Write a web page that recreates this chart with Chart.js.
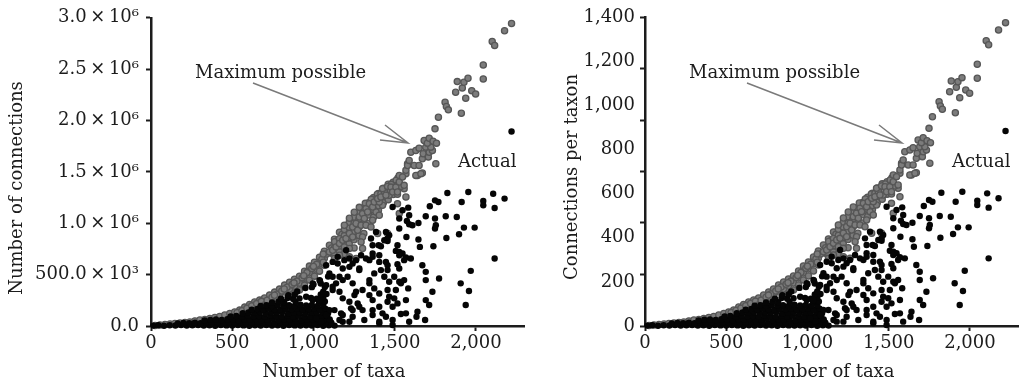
<!DOCTYPE html>
<html>
<head>
<meta charset="utf-8">
<script src="https://cdn.jsdelivr.net/npm/chart.js@4.4.1/dist/chart.umd.min.js"></script>
<style>
  html, body { margin: 0; padding: 0; background: #fff; }
  #wrap { position: relative; width: 1024px; height: 385px; }
  canvas { position: absolute; top: 0; }
  #connChart { left: 0; }
  #perTaxonChart { left: 530px; }
</style>
</head>
<body>
<div id="wrap">
  <canvas id="connChart" width="530" height="385"></canvas>
  <canvas id="perTaxonChart" width="494" height="385"></canvas>
</div>
<script>
// Tick values
const taxaTicks = [0, 500, 1000, 1500, 2000];
const connTicksK = [0, 500, 1000, 1500, 2000, 2500, 3000];           // connections, thousands
const perTaxonTicks = [0, 200, 400, 600, 800, 1000, 1200, 1400];

// Maximum possible connections: [number of taxa, connections (thousands)]
const maxPossible = [
  [25,5],[55,10],[86,15],[117,19],[147,24],[178,29],[209,34],[239,39],[270,49],[301,58],
  [331,63],[362,73],[393,83],[423,92],[454,107],[485,121],[515,136],[546,155],[577,184],[607,209],
  [638,233],[669,252],[699,272],[730,301],[761,330],[791,359],[822,398],[853,427],[883,456],[914,485],
  [945,534],[975,583],[1006,621],[1037,670],[1067,728],[1098,786],[1129,845],[1160,913],
  [530,130],[560,150],[590,172],[620,196],[650,218],[680,240],
  [699,204],[730,233],[761,262],[791,291],[822,330],[853,359],[883,388],[914,417],[945,466],[975,515],
  [1006,553],[1037,602],[1067,660],[1098,718],
  [715,250],[745,280],[775,310],[805,340],[838,378],[868,405],[898,436],[930,470],[960,520],[990,560],
  [1020,600],[1052,650],[1082,700],[1112,760],[1145,830],[1175,890],
  [853,291],[883,320],[914,350],[945,398],[975,447],[1006,485],[1037,534],[1067,592],
  [760,300],[820,360],[880,420],[940,490],[1000,580],[1060,620],[1060,700],[1120,700],
  [1130,700],[1130,760],[1130,820],[1160,720],[1160,780],[1160,850],[1190,700],[1190,800],[1190,880],[1190,940],
  [1220,800],[1220,860],[1220,960],[1220,1010],[1250,760],[1250,840],[1250,920],[1250,1000],[1250,1060],
  [1280,880],[1280,960],[1280,1040],[1280,1100],[1310,900],[1310,1000],[1310,1070],[1310,1140],
  [1340,1000],[1340,1080],[1340,1150],[1340,1200],[1370,1060],[1370,1130],[1370,1200],[1370,1250],
  [1400,1130],[1400,1170],[1400,1230],[1400,1290],[1430,1200],[1430,1260],[1430,1340],
  [1460,1230],[1460,1300],[1460,1380],[1490,1280],[1490,1330],[1490,1400],[1520,1420],[1520,1440],
  [1190,981],[1221,1049],[1251,1107],[1282,1155],[1319,1194],[1356,1233],[1393,1282],[1436,1320],[1479,1379],[1509,1418],
  [1098,721],[1118,738],[1139,770],[1160,803],[1129,657],[1160,689],[1190,770],[1221,754],[1221,673],[1262,657],
  [1302,754],[1180,835],[1200,851],[1221,900],[1241,867],[1302,867],[1293,818],[1241,964],[1262,997],[1272,932],
  [1293,981],[1323,981],[1354,964],[1395,900],[1456,900],[1282,1061],[1302,1094],[1313,1046],[1364,1029],[1323,1143],
  [1333,1110],[1385,1110],[1405,1078],[1528,1094],[1344,1191],[1364,1158],[1425,1175],[1517,1191],[1374,1207],[1405,1207],
  [1395,1240],[1415,1288],[1436,1304],[1466,1272],[1517,1282],[1425,1337],[1558,1337],[1456,1359],[1477,1352],[1517,1369],
  [1538,1359],[1528,1466],[1569,1483],[1640,1466],[1670,1489],[1415,1255],[1446,1272],[1487,1304],[1507,1352],[1528,1401],
  [1548,1450],[1558,1369],[1517,1304],[1569,1255],[1569,1515],[1579,1580],[1579,1563],[1589,1612],[1620,1563],[1630,1466],
  [1661,1483],[1650,1563],[1670,1628],[1599,1692],[1630,1709],[1650,1731],[1675,1676],[1707,1644],[1753,1580],[1712,1692],
  [1732,1709],[1691,1741],[1722,1741],[1681,1806],[1701,1780],[1712,1828],[1736,1799],[1757,1780],[1748,1919],[1769,2032],
  [1810,2178],[1818,2136],[1830,2104],[1910,2071],[1875,2275],[1885,2379],[1916,2317],[1926,2372],[1951,2411],[1937,2217],
  [1974,2291],[1998,2259],[2045,2405],[2045,2541],[2100,2770],[2115,2731],[2176,2874],[2219,2945]
];

// Actual connections: [number of taxa, connections (thousands)]
const actual = [
  [15,4],[45,7],[80,3],[115,8],[150,5],[185,9],[220,4],[255,7],[290,10],[325,5],[360,8],[395,3],[430,9],[465,6],
  [500,4],[535,10],[570,6],[605,3],[640,8],[675,5],[710,9],[745,4],[780,7],[815,3],[850,9],[885,6],[920,4],[955,8],
  [990,5],[1025,9],[1060,3],[1095,7],[1130,4],
  [165,24],[200,30],[235,27],[270,33],[305,28],[340,35],[375,30],[410,36],[445,29],[480,34],[515,31],[550,37],
  [585,28],[620,33],[655,38],[690,30],[725,35],[760,27],[795,36],[830,31],[865,34],[900,29],[935,37],[970,32],
  [1005,28],[1040,35],[1075,30],[1110,33],
  [330,55],[365,60],[400,64],[435,58],[470,66],[505,61],[540,57],[575,65],[610,62],[645,68],[680,59],[715,64],
  [750,70],[785,58],[820,66],[855,62],[890,69],[925,57],[960,64],[995,60],[1030,67],[1065,58],[1100,63],
  [490,92],[525,98],[560,90],[595,100],[630,94],[665,97],[700,91],[735,102],[770,95],[805,89],[840,99],[875,93],
  [910,101],[945,96],[980,90],[1015,98],[1050,94],[1085,100],
  [565,125],[600,132],[635,128],[670,136],[705,127],[740,133],[775,129],[810,137],[845,124],[880,131],[915,135],
  [950,126],[985,134],[1020,129],[1055,136],[1090,127],
  [620,158],[655,166],[690,161],[725,170],[760,163],[795,159],[830,168],[865,162],[900,171],[935,158],[970,165],
  [1005,169],[1040,160],[1075,167],
  [675,196],[710,202],[745,195],[780,205],[815,198],[850,203],[885,194],[920,207],[955,199],[990,204],[1025,196],
  [1060,201],
  [745,229],[785,236],[820,231],[890,233],[1035,234],[1070,239],
  [800,266],[840,272],[875,264],[985,273],[1020,265],[1060,276],
  [845,300],[885,308],[1045,306],[1080,311],
  [900,336],[1060,335],
  [950,370],[990,378],[1070,380],
  [1000,405],[1045,413],[1040,440],[1090,482],
  [1824,1294],[1953,1304],[2106,1288],[2176,1240],[2045,1217],[2045,1175],[2115,1149],[1912,1207],[1748,1223],[1769,1207],
  [1716,1165],[1583,1152],[1691,1068],[1748,1046],[1814,1068],[1882,1061],[1575,1022],[1589,990],[1646,1003],[1528,1046],
  [1753,981],[1748,949],[1926,958],[1992,958],[1528,949],[1896,893],[1818,857],[1572,867],[1646,842],[1655,770],
  [1738,777],[1466,884],[1456,828],[1436,835],[1401,786],[1415,777],[1507,731],[1528,721],[1548,706],[1599,657],
  [1517,602],[1528,560],[1670,592],[2115,657],[1968,537],[1691,527],[1773,463],[1691,447],[1906,415],[1957,340],
  [1732,333],[1583,366],[1538,415],[1691,252],[1712,204],[1937,204],[1640,139],[1634,90],[1538,117],[1687,58],
  [1589,42],[1487,187],[1456,236],[1466,284],[1497,269],[1405,42],[1313,58],[1241,90],[1180,42],[1507,350],
  [1436,479],[1466,430],[1415,544],[1374,512],[1344,415],[1374,366],[1405,317],[1302,350],[1252,301],[1180,269],
  [1221,236],[1272,220],[1302,155],[1364,155],[1425,123],[1129,155],[1170,123],[1231,172],[1139,415],[1118,350],
  [1160,333],[1180,447],[1210,479],[1262,641],[1282,560],[1293,689],[1323,657],[1364,706],[1405,689],[1354,851],
  [1364,786],[1446,916],[1456,851],[1517,786],[1569,667],[1190,641],[1221,576],[1180,560],[1149,609],[1098,512],
  [1118,479],[1569,252],[1569,123],[1517,220],[1456,350],[1528,430],[1558,447],[1497,479],[1456,544],[1446,624],
  [1456,592],[1405,624],[1385,916],[1528,689],[1558,641],[1589,1078],[1609,981],[1487,1158],[1548,1126],[1344,641],
  [1364,673],[1221,657],[1241,609],[1282,544],[1201,738],[1149,673],[1118,624],[1078,592],[1160,479],[1241,415],
  [1262,333],[1118,382],[1078,398],[1037,447],[996,415],[1344,447],[1344,301],[1364,252],[1405,187],[1282,187],
  [1241,155],[1180,107],[1160,58],[1221,42],[1364,107],[1446,90],[1487,58],[1405,26],[1487,10],[1098,155],
  [1078,107],[1047,42],[1017,75],[1037,252],[996,252],[955,284],[914,269],[2219,1893]
];

// Right panel is the same survey expressed per taxon (1,400 on the right = 3.0 x 10^6 on the left)
const perTaxonFactor = 1400 / 3000;

const FONT = '"DejaVu Serif", "Liberation Serif", serif';
const INK = '#1c1c1c';
const tickFont = { family: FONT, size: 18 };

const toPoints = (rows, k) => rows.map(([x, y]) => ({ x, y: y * k }));

// axis titles, the "Maximum possible" arrow and the "Actual" label
const panelText = {
  id: 'panelText',
  afterDraw(chart, args, o) {
    const { ctx, chartArea: a } = chart;
    ctx.save();
    ctx.fillStyle = INK;
    ctx.font = `18px ${FONT}`;
    ctx.textAlign = 'center';
    ctx.textBaseline = 'alphabetic';
    ctx.fillText('Number of taxa', a.left + o.xTitleDx, 377);

    ctx.save();
    ctx.translate(o.yTitleX, o.yTitleY);
    ctx.rotate(-Math.PI / 2);
    ctx.textBaseline = 'middle';
    ctx.fillText(o.yTitle, 0, 0);
    ctx.restore();

    ctx.textAlign = 'left';
    ctx.fillText('Maximum possible', a.left + 44, 78);
    ctx.fillText('Actual', a.left + 307, 167);

    const tipX = a.left + 257, tipY = 143;
    ctx.strokeStyle = '#7a7a7a';
    ctx.lineWidth = 1.5;
    ctx.beginPath();
    ctx.moveTo(a.left + 102, 83);
    ctx.lineTo(tipX, tipY);
    ctx.moveTo(a.left + 234, 125);
    ctx.lineTo(tipX, tipY);
    ctx.lineTo(a.left + 229, 140);
    ctx.stroke();
    ctx.restore();
  }
};

function makeChart(canvas, cfg) {
  return new Chart(canvas, {
    type: 'scatter',
    data: {
      datasets: [
        {
          label: 'Actual',
          data: toPoints(actual, cfg.factor),
          backgroundColor: '#050505',
          borderWidth: 0,
          pointRadius: 3.2,
          clip: false
        },
        {
          label: 'Maximum possible',
          data: toPoints(maxPossible, cfg.factor),
          backgroundColor: '#7c7c7c',
          borderColor: '#565656',
          borderWidth: 1.3,
          pointRadius: 3.1,
          clip: false
        }
      ]
    },
    options: {
      responsive: false,
      animation: false,
      events: [],
      layout: { padding: { top: 17, right: 4, left: 0, bottom: 0 } },
      plugins: {
        legend: { display: false },
        tooltip: { enabled: false },
        panelText: cfg.text
      },
      scales: {
        x: {
          type: 'linear',
          min: 0,
          max: 2300,
          afterFit: (s) => { s.height = 59; },
          afterBuildTicks: (s) => { s.ticks = taxaTicks.map((v) => ({ value: v })); },
          border: { color: INK, width: 2.5 },
          grid: { drawOnChartArea: false, tickLength: 5, tickColor: INK, tickWidth: 2 },
          ticks: {
            autoSkip: false,
            maxRotation: 0,
            padding: 2,
            color: INK,
            font: tickFont,
            callback: (v) => v.toLocaleString('en-US')
          }
        },
        y: cfg.y
      }
    },
    plugins: [panelText]
  });
}

// left: total connections
makeChart(document.getElementById('connChart'), {
  factor: 1,
  text: { yTitle: 'Number of connections', yTitleX: 17, yTitleY: 188, xTitleDx: 183 },
  y: {
    min: 0,
    max: 3000,
    afterFit: (s) => { s.width = 151; },
    afterBuildTicks: (s) => { s.ticks = connTicksK.map((v) => ({ value: v })); },
    border: { color: INK, width: 2.5 },
    grid: { drawOnChartArea: false, tickLength: 5, tickColor: INK, tickWidth: 2 },
    ticks: {
      autoSkip: false,
      padding: 7,
      color: INK,
      font: tickFont,
      callback: (v) => {
        if (v === 0) return '0.0';
        if (v < 1000) return `${v.toFixed(1)}\u2009×\u200910³`;
        return `${(v / 1000).toFixed(1)}\u2009×\u200910⁶`;
      }
    }
  }
});

// right: connections per taxon; labels every 200, tick marks where the left panel has them
const markVals = new Set(connTicksK.map((v) => +(v * perTaxonFactor).toFixed(3)));
const labelVals = new Set(perTaxonTicks);

makeChart(document.getElementById('perTaxonChart'), {
  factor: perTaxonFactor,
  text: { yTitle: 'Connections per taxon', yTitleX: 42, yTitleY: 177, xTitleDx: 178 },
  y: {
    min: 0,
    max: 1400,
    afterFit: (s) => { s.width = 115; },
    afterBuildTicks: (s) => {
      const vals = [...new Set([...labelVals, ...markVals])].sort((a, b) => a - b);
      s.ticks = vals.map((v) => ({ value: v }));
    },
    border: { color: INK, width: 2.5 },
    grid: {
      drawOnChartArea: false,
      tickLength: 5,
      tickWidth: 2,
      tickColor: (c) => (c.tick && markVals.has(+c.tick.value.toFixed(3)) ? INK : 'rgba(0,0,0,0)')
    },
    ticks: {
      autoSkip: false,
      padding: 5,
      color: INK,
      font: tickFont,
      callback: (v) => (labelVals.has(v) ? v.toLocaleString('en-US') : '')
    }
  }
});
</script>
</body>
</html>
